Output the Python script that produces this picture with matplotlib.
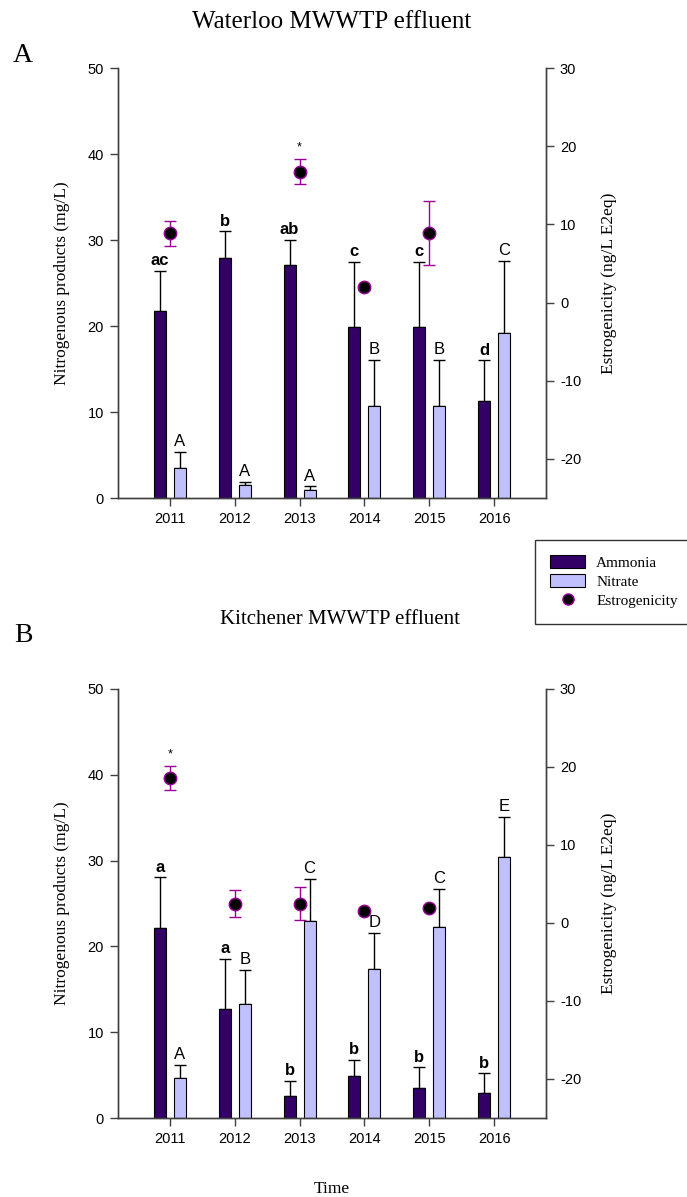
import numpy as np
import matplotlib
matplotlib.use("Agg")
import matplotlib.pyplot as plt
from matplotlib.patches import Patch
from matplotlib.lines import Line2D

plt.rcParams["axes.unicode_minus"] = False

years = ["2011", "2012", "2013", "2014", "2015", "2016"]

# Waterloo (panel A)
wat_amm = [21.8, 27.9, 27.1, 19.85, 19.85, 11.3]
wat_amm_err = [4.6, 3.1, 2.9, 7.65, 7.65, 4.7]
wat_nit = [3.5, 1.47, 0.89, 10.66, 10.66, 19.2]
wat_nit_err = [1.85, 0.39, 0.47, 5.44, 5.44, 8.4]
wat_est = [8.85, np.nan, 16.75, 1.96, 8.9, np.nan]
wat_est_err = [1.6, 0.0, 1.6, 0.3, 4.1, 0.0]
wat_amm_lab = ["ac", "b", "ab", "c", "c", "d"]
wat_nit_lab = ["A", "A", "A", "B", "B", "C"]
wat_star = [False, False, True, False, False, False]

# Kitchener (panel B)
kit_amm = [22.2, 12.7, 2.6, 4.9, 3.5, 2.9]
kit_amm_err = [5.85, 5.8, 1.75, 1.9, 2.4, 2.3]
kit_nit = [4.7, 13.25, 23.0, 17.4, 22.3, 30.4]
kit_nit_err = [1.5, 4.0, 4.9, 4.2, 4.4, 4.7]
kit_est = [18.6, 2.47, 2.47, 1.5, 1.95, np.nan]
kit_est_err = [1.5, 1.7, 2.1, 0.2, 0.3, 0.0]
kit_amm_lab = ["a", "a", "b", "b", "b", "b"]
kit_nit_lab = ["A", "B", "C", "D", "C", "E"]
kit_star = [True, False, False, False, False, False]

AMM_C = "#330066"
NIT_C = "#C0C0FF"
EST_EDGE = "#990099"
SPINE_C = "#404040"
SERIF = ["Liberation Serif", "DejaVu Serif"]
SANS = ["Liberation Sans", "DejaVu Sans"]

W, H = 687, 1197
fig = plt.figure(figsize=(W / 100, H / 100), dpi=100)


def px_axes(left, top, right, bottom):
    return [left / W, 1 - bottom / H, (right - left) / W, (bottom - top) / H]


def panel(rect, amm, amm_err, nit, nit_err, est, est_err, amm_lab, nit_lab, star):
    ax = fig.add_axes(rect)
    x = np.arange(len(years))
    off, bw = 0.154, 0.185
    ax.bar(x - off, amm, bw, color=AMM_C, edgecolor="black", linewidth=0.8, zorder=2)
    ax.bar(x + off, nit, bw, color=NIT_C, edgecolor="black", linewidth=0.8, zorder=2)
    z = np.zeros(len(x))
    ax.errorbar(x - off, amm, yerr=[z, amm_err], fmt="none", ecolor="black",
                elinewidth=1, capsize=4.3, capthick=1, zorder=1)
    ax.errorbar(x + off, nit, yerr=[z, nit_err], fmt="none", ecolor="black",
                elinewidth=1, capsize=4.3, capthick=1, zorder=1)
    for i in range(len(x)):
        ax.annotate(amm_lab[i], (x[i] - off, amm[i] + amm_err[i]), xytext=(0, 2),
                    textcoords="offset points", ha="center", va="bottom",
                    fontsize=12, fontweight="bold", family=SANS)
        ax.annotate(nit_lab[i], (x[i] + off, nit[i] + nit_err[i]), xytext=(0, 2),
                    textcoords="offset points", ha="center", va="bottom",
                    fontsize=12, family=SANS)
    ax.set_xlim(-0.8, 5.8)
    ax.set_ylim(0, 50)
    ax.set_yticks(np.arange(0, 51, 10))
    ax.set_xticks(x)
    ax.set_xticklabels(years)
    ax.spines["top"].set_visible(False)
    for s in ["left", "bottom", "right"]:
        ax.spines[s].set_color(SPINE_C)
        ax.spines[s].set_linewidth(1)
    ax.tick_params(direction="out", length=6, width=1, color=SPINE_C,
                   labelsize=10.5, pad=4)
    for lab in ax.get_xticklabels() + ax.get_yticklabels():
        lab.set_family(SANS)
    ax.set_ylabel("Nitrogenous products (mg/L)", family=SERIF, fontsize=12.5, labelpad=13)

    ax2 = ax.twinx()
    ax2.set_ylim(-25, 30)
    ax2.set_yticks(np.arange(-20, 31, 10))
    ax2.errorbar(x, est, yerr=est_err, fmt="o", color="black", markersize=9,
                 markerfacecolor="black", markeredgecolor=EST_EDGE, markeredgewidth=1,
                 ecolor=EST_EDGE, elinewidth=1, capsize=4.5, capthick=1, zorder=3)
    for i in range(len(x)):
        if star[i]:
            ax2.annotate("*", (x[i], est[i] + est_err[i]), xytext=(0, 4),
                         textcoords="offset points", ha="center", va="bottom",
                         fontsize=9, family=SANS)
    ax2.spines["top"].set_visible(False)
    for s in ["left", "bottom", "right"]:
        ax2.spines[s].set_color(SPINE_C)
        ax2.spines[s].set_linewidth(1)
    ax2.tick_params(direction="out", length=6, width=1, color=SPINE_C,
                    labelsize=10.5, pad=4)
    for lab in ax2.get_yticklabels():
        lab.set_family(SANS)
    ax2.set_ylabel("Estrogenicity (ng/L E2eq)", family=SERIF, fontsize=12.5, labelpad=14)
    return ax, ax2


axA, axA2 = panel(px_axes(118, 68, 546, 498), wat_amm, wat_amm_err, wat_nit, wat_nit_err,
                  wat_est, wat_est_err, wat_amm_lab, wat_nit_lab, wat_star)
axB, axB2 = panel(px_axes(118, 689, 546, 1118), kit_amm, kit_amm_err, kit_nit, kit_nit_err,
                  kit_est, kit_est_err, kit_amm_lab, kit_nit_lab, kit_star)

axB.set_xlabel("Time", family=SERIF, fontsize=12.5, labelpad=25)

fig.text(332 / W, 1 - 22 / H, "Waterloo MWWTP effluent", family=SERIF, fontsize=18,
         ha="center", va="center")
fig.text(340 / W, 1 - 620 / H, "Kitchener MWWTP effluent", family=SERIF, fontsize=15,
         ha="center", va="center")
fig.text(23 / W, 1 - 55 / H, "A", family=SERIF, fontsize=20, ha="center", va="center")
fig.text(23 / W, 1 - 636 / H, "B", family=SERIF, fontsize=20, ha="center", va="center")

handles = [
    Patch(facecolor=AMM_C, edgecolor="black", linewidth=0.8, label="Ammonia"),
    Patch(facecolor=NIT_C, edgecolor="black", linewidth=0.8, label="Nitrate"),
    Line2D([], [], linestyle="none", marker="o", markersize=8, markerfacecolor="black",
           markeredgecolor=EST_EDGE, markeredgewidth=1, label="Estrogenicity"),
]
leg = fig.legend(handles=handles, loc="upper left", bbox_to_anchor=(535 / W, 1 - 540 / H),
                 borderaxespad=0, prop={"family": SERIF, "size": 11}, frameon=True,
                 fancybox=False, edgecolor="black", borderpad=1.0, handlelength=2.3,
                 handleheight=0.9, labelspacing=0.3, handletextpad=0.7)
leg.get_frame().set_linewidth(1)

fig.savefig("out.png", dpi=100)
